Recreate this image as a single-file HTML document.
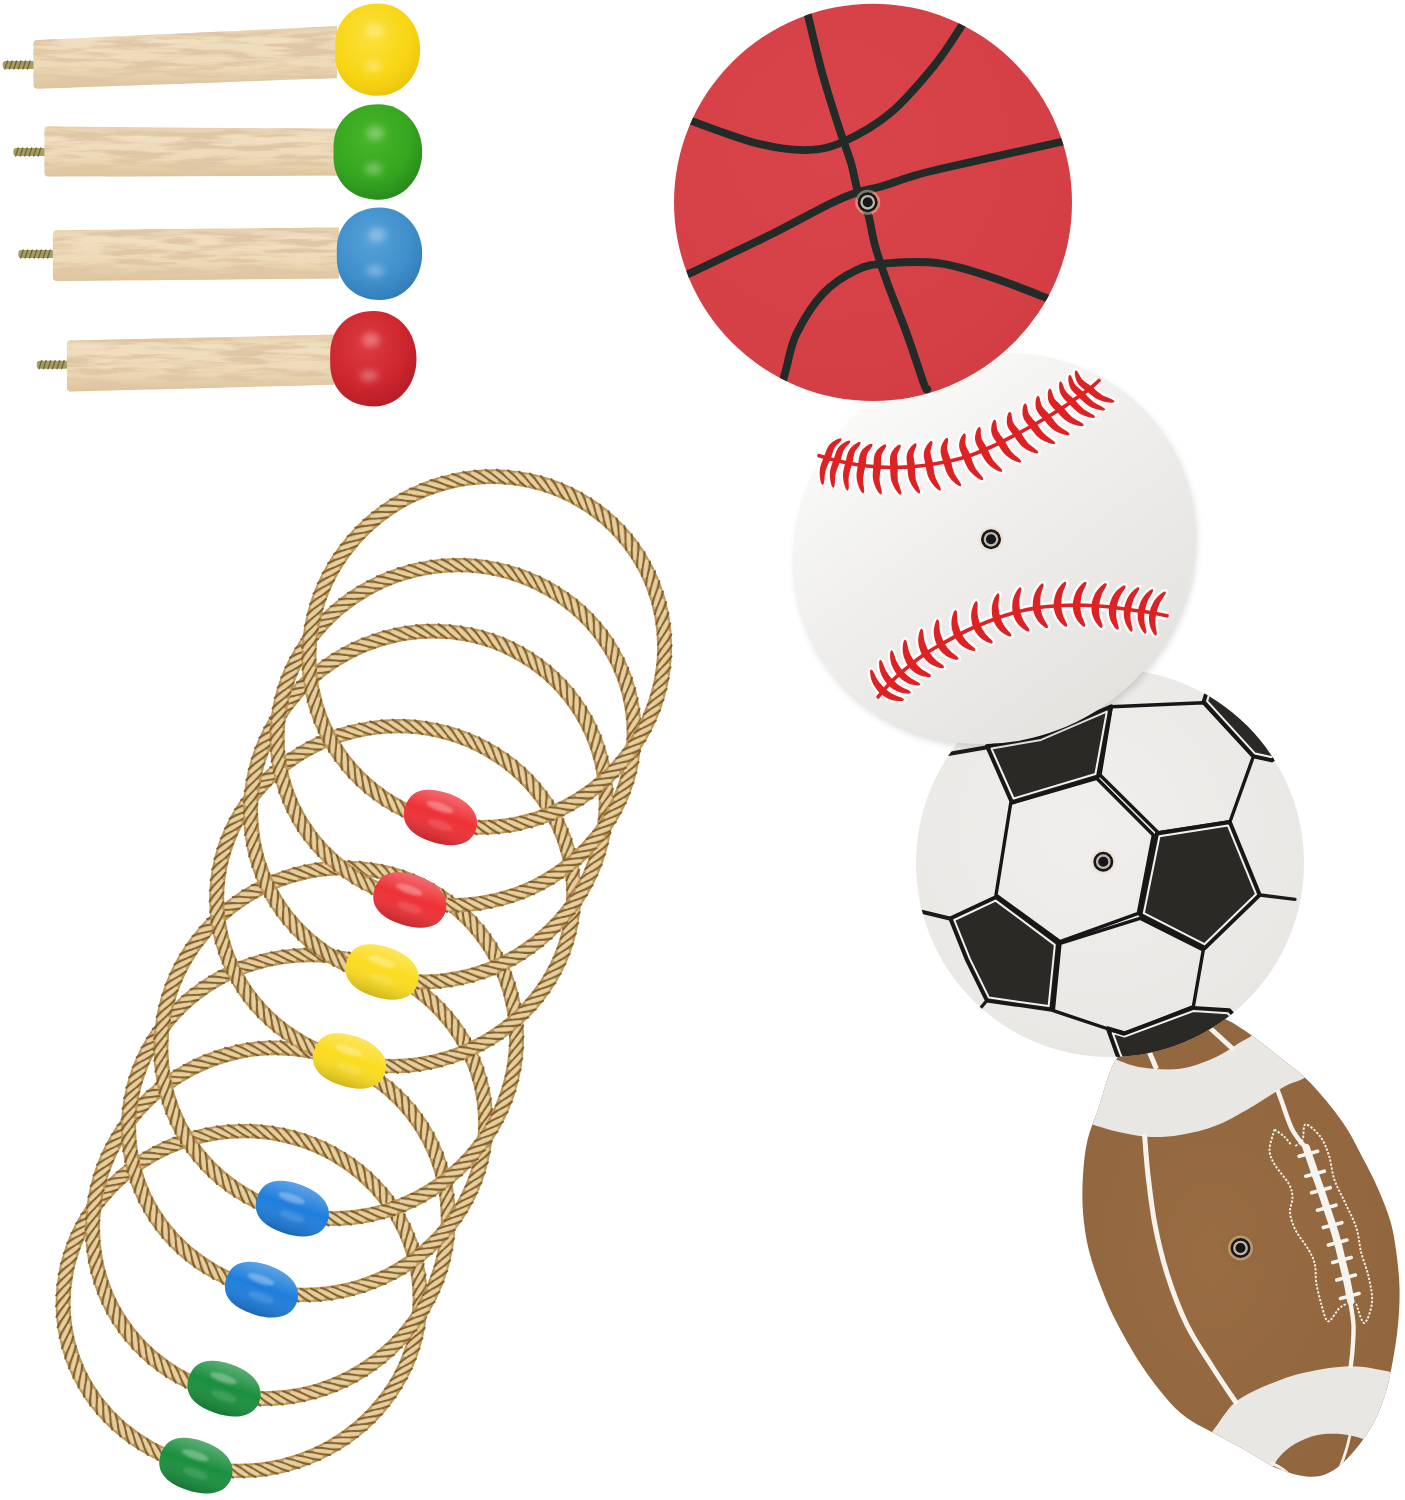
<!DOCTYPE html>
<html><head><meta charset="utf-8"><title>Ring toss game set</title>
<style>html,body{margin:0;padding:0;background:#fff;font-family:"Liberation Sans",sans-serif}svg{display:block}</style>
</head><body>
<svg width="1405" height="1500" viewBox="0 0 1405 1500">
<rect width="1405" height="1500" fill="#fff"/>
<defs>
<filter id="wood" x="0" y="0" width="100%" height="100%">
<feTurbulence type="fractalNoise" baseFrequency="0.018 0.16" numOctaves="4" seed="7" result="n"/>
<feColorMatrix in="n" values="0 0 0 0 0.74  0 0 0 0 0.57  0 0 0 0 0.38  4.4 0 0 0 -1.85" result="g"/>
<feComposite in="g" in2="SourceGraphic" operator="in" result="gg"/>
<feMerge><feMergeNode in="SourceGraphic"/><feMergeNode in="gg"/></feMerge>
</filter>
<filter id="soft" x="-50%" y="-50%" width="200%" height="200%"><feGaussianBlur stdDeviation="1.2"/></filter>
<filter id="soft3" x="-60%" y="-60%" width="220%" height="220%"><feGaussianBlur stdDeviation="3"/></filter>
<linearGradient id="stick" x1="0" y1="0" x2="0" y2="1">
<stop offset="0" stop-color="#e6d0ab"/><stop offset="0.2" stop-color="#f1dfc1"/><stop offset="0.65" stop-color="#eed9b7"/><stop offset="1" stop-color="#dcc39a"/>
</linearGradient>
<radialGradient id="gy" cx="0.42" cy="0.35" r="0.75"><stop offset="0" stop-color="#fbe03a"/><stop offset="0.6" stop-color="#f8d615"/><stop offset="1" stop-color="#e9be0c"/></radialGradient>
<radialGradient id="gg" cx="0.42" cy="0.35" r="0.75"><stop offset="0" stop-color="#48b62a"/><stop offset="0.6" stop-color="#36a620"/><stop offset="1" stop-color="#23801c"/></radialGradient>
<radialGradient id="gb" cx="0.42" cy="0.35" r="0.75"><stop offset="0" stop-color="#57a2d8"/><stop offset="0.6" stop-color="#3f8fcb"/><stop offset="1" stop-color="#2d76b4"/></radialGradient>
<radialGradient id="gr" cx="0.42" cy="0.35" r="0.75"><stop offset="0" stop-color="#dd3b41"/><stop offset="0.6" stop-color="#cd262e"/><stop offset="1" stop-color="#ae1a26"/></radialGradient>
<radialGradient id="bk" cx="0.4" cy="0.35" r="0.8"><stop offset="0" stop-color="#d84449"/><stop offset="0.7" stop-color="#d54046"/><stop offset="1" stop-color="#d03a41"/></radialGradient>
<radialGradient id="wh" cx="0.45" cy="0.4" r="0.7"><stop offset="0" stop-color="#f0efed"/><stop offset="0.8" stop-color="#eae8e5"/><stop offset="1" stop-color="#e4e2de"/></radialGradient>
<linearGradient id="bbg" gradientUnits="userSpaceOnUse" x1="-60" y1="-190" x2="-30" y2="190"><stop offset="0" stop-color="#fafaf9"/><stop offset="0.45" stop-color="#efeeec"/><stop offset="1" stop-color="#e5e3e0"/></linearGradient>
<linearGradient id="bead" x1="0" y1="0" x2="0" y2="1"><stop offset="0" stop-color="#fff" stop-opacity="0.28"/><stop offset="0.45" stop-color="#fff" stop-opacity="0"/><stop offset="1" stop-color="#000" stop-opacity="0.18"/></linearGradient>
<g id="ring">
<circle r="176" fill="none" stroke="#bd9658" stroke-width="14.8"/>
<circle r="176" fill="none" stroke="#d3b37a" stroke-width="10.5"/>
<path d="M182.8 -10Q178.8 -2.6 176 0T169.2 10M183.1 1.1Q178.6 8.2 175.7 10.6T168.3 20.2M182.7 12.1Q177.8 19 174.7 21.2T166.8 30.3M181.6 23.1Q176.3 29.7 173.1 31.7T164.6 40.3M179.9 34Q174.2 40.3 170.9 42.1T161.9 50.2M177.5 44.8Q171.5 50.7 168 52.4T158.6 59.9M174.5 55.5Q168.1 61 164.6 62.4T154.7 69.3M170.8 65.9Q164.1 71 160.5 72.2T150.2 78.6M166.5 76.1Q159.5 80.8 155.8 81.8T145.2 87.5M161.6 86Q154.4 90.3 150.6 91.1T139.6 96.1M156.1 95.6Q148.6 99.4 144.8 100T133.6 104.3M150.1 104.9Q142.4 108.2 138.5 108.5T127 112.2M143.5 113.7Q135.6 116.6 131.7 116.7T120 119.7M136.3 122.2Q128.3 124.6 124.5 124.5T112.6 126.7M128.7 130.2Q120.5 132.1 116.7 131.7T104.7 133.3M120.6 137.7Q112.3 139.1 108.5 138.5T96.5 139.4M112.1 144.8Q103.7 145.7 100 144.8T87.9 144.9M103.1 151.3Q94.7 151.7 91.1 150.6T79 150M93.8 157.2Q85.4 157.1 81.8 155.8T69.8 154.5M84.1 162.6Q75.8 162 72.2 160.5T60.3 158.4M74.2 167.4Q65.8 166.3 62.4 164.6T50.6 161.8M63.9 171.5Q55.7 169.9 52.4 168T40.8 164.5M53.5 175.1Q45.3 173 42.1 170.9T30.8 166.7M42.8 178Q34.8 175.4 31.7 173.1T20.7 168.2M32 180.3Q24.1 177.2 21.2 174.7T10.5 169.2M21 181.9Q13.4 178.3 10.6 175.7T0.2 169.5M10 182.8Q2.6 178.8 -0 176T-10 169.2M-1.1 183.1Q-8.2 178.6 -10.6 175.7T-20.2 168.3M-12.1 182.7Q-19 177.8 -21.2 174.7T-30.3 166.8M-23.1 181.6Q-29.7 176.3 -31.7 173.1T-40.3 164.6M-34 179.9Q-40.3 174.2 -42.1 170.9T-50.2 161.9M-44.8 177.5Q-50.7 171.5 -52.4 168T-59.9 158.6M-55.5 174.5Q-61 168.1 -62.4 164.6T-69.3 154.7M-65.9 170.8Q-71 164.1 -72.2 160.5T-78.6 150.2M-76.1 166.5Q-80.8 159.5 -81.8 155.8T-87.5 145.2M-86 161.6Q-90.3 154.4 -91.1 150.6T-96.1 139.6M-95.6 156.1Q-99.4 148.6 -100 144.8T-104.3 133.6M-104.9 150.1Q-108.2 142.4 -108.5 138.5T-112.2 127M-113.7 143.5Q-116.6 135.6 -116.7 131.7T-119.7 120M-122.2 136.3Q-124.6 128.3 -124.5 124.5T-126.7 112.6M-130.2 128.7Q-132.1 120.5 -131.7 116.7T-133.3 104.7M-137.7 120.6Q-139.1 112.3 -138.5 108.5T-139.4 96.5M-144.8 112.1Q-145.7 103.7 -144.8 100T-144.9 87.9M-151.3 103.1Q-151.7 94.7 -150.6 91.1T-150 79M-157.2 93.8Q-157.1 85.4 -155.8 81.8T-154.5 69.8M-162.6 84.1Q-162 75.8 -160.5 72.2T-158.4 60.3M-167.4 74.2Q-166.3 65.8 -164.6 62.4T-161.8 50.6M-171.5 63.9Q-169.9 55.7 -168 52.4T-164.5 40.8M-175.1 53.5Q-173 45.3 -170.9 42.1T-166.7 30.8M-178 42.8Q-175.4 34.8 -173.1 31.7T-168.2 20.7M-180.3 32Q-177.2 24.1 -174.7 21.2T-169.2 10.5M-181.9 21Q-178.3 13.4 -175.7 10.6T-169.5 0.2M-182.8 10Q-178.8 2.6 -176 -0T-169.2 -10M-183.1 -1.1Q-178.6 -8.2 -175.7 -10.6T-168.3 -20.2M-182.7 -12.1Q-177.8 -19 -174.7 -21.2T-166.8 -30.3M-181.6 -23.1Q-176.3 -29.7 -173.1 -31.7T-164.6 -40.3M-179.9 -34Q-174.2 -40.3 -170.9 -42.1T-161.9 -50.2M-177.5 -44.8Q-171.5 -50.7 -168 -52.4T-158.6 -59.9M-174.5 -55.5Q-168.1 -61 -164.6 -62.4T-154.7 -69.3M-170.8 -65.9Q-164.1 -71 -160.5 -72.2T-150.2 -78.6M-166.5 -76.1Q-159.5 -80.8 -155.8 -81.8T-145.2 -87.5M-161.6 -86Q-154.4 -90.3 -150.6 -91.1T-139.6 -96.1M-156.1 -95.6Q-148.6 -99.4 -144.8 -100T-133.6 -104.3M-150.1 -104.9Q-142.4 -108.2 -138.5 -108.5T-127 -112.2M-143.5 -113.7Q-135.6 -116.6 -131.7 -116.7T-120 -119.7M-136.3 -122.2Q-128.3 -124.6 -124.5 -124.5T-112.6 -126.7M-128.7 -130.2Q-120.5 -132.1 -116.7 -131.7T-104.7 -133.3M-120.6 -137.7Q-112.3 -139.1 -108.5 -138.5T-96.5 -139.4M-112.1 -144.8Q-103.7 -145.7 -100 -144.8T-87.9 -144.9M-103.1 -151.3Q-94.7 -151.7 -91.1 -150.6T-79 -150M-93.8 -157.2Q-85.4 -157.1 -81.8 -155.8T-69.8 -154.5M-84.1 -162.6Q-75.8 -162 -72.2 -160.5T-60.3 -158.4M-74.2 -167.4Q-65.8 -166.3 -62.4 -164.6T-50.6 -161.8M-63.9 -171.5Q-55.7 -169.9 -52.4 -168T-40.8 -164.5M-53.5 -175.1Q-45.3 -173 -42.1 -170.9T-30.8 -166.7M-42.8 -178Q-34.8 -175.4 -31.7 -173.1T-20.7 -168.2M-32 -180.3Q-24.1 -177.2 -21.2 -174.7T-10.5 -169.2M-21 -181.9Q-13.4 -178.3 -10.6 -175.7T-0.2 -169.5M-10 -182.8Q-2.6 -178.8 -0 -176T10 -169.2M1.1 -183.1Q8.2 -178.6 10.6 -175.7T20.2 -168.3M12.1 -182.7Q19 -177.8 21.2 -174.7T30.3 -166.8M23.1 -181.6Q29.7 -176.3 31.7 -173.1T40.3 -164.6M34 -179.9Q40.3 -174.2 42.1 -170.9T50.2 -161.9M44.8 -177.5Q50.7 -171.5 52.4 -168T59.9 -158.6M55.5 -174.5Q61 -168.1 62.4 -164.6T69.3 -154.7M65.9 -170.8Q71 -164.1 72.2 -160.5T78.6 -150.2M76.1 -166.5Q80.8 -159.5 81.8 -155.8T87.5 -145.2M86 -161.6Q90.3 -154.4 91.1 -150.6T96.1 -139.6M95.6 -156.1Q99.4 -148.6 100 -144.8T104.3 -133.6M104.9 -150.1Q108.2 -142.4 108.5 -138.5T112.2 -127M113.7 -143.5Q116.6 -135.6 116.7 -131.7T119.7 -120M122.2 -136.3Q124.6 -128.3 124.5 -124.5T126.7 -112.6M130.2 -128.7Q132.1 -120.5 131.7 -116.7T133.3 -104.7M137.7 -120.6Q139.1 -112.3 138.5 -108.5T139.4 -96.5M144.8 -112.1Q145.7 -103.7 144.8 -100T144.9 -87.9M151.3 -103.1Q151.7 -94.7 150.6 -91.1T150 -79M157.2 -93.8Q157.1 -85.4 155.8 -81.8T154.5 -69.8M162.6 -84.1Q162 -75.8 160.5 -72.2T158.4 -60.3M167.4 -74.2Q166.3 -65.8 164.6 -62.4T161.8 -50.6M171.5 -63.9Q169.9 -55.7 168 -52.4T164.5 -40.8M175.1 -53.5Q173 -45.3 170.9 -42.1T166.7 -30.8M178 -42.8Q175.4 -34.8 173.1 -31.7T168.2 -20.7M180.3 -32Q177.2 -24.1 174.7 -21.2T169.2 -10.5M181.9 -21Q178.3 -13.4 175.7 -10.6T169.5 -0.2" stroke="#704e20" stroke-width="2" stroke-opacity="0.78" fill="none" stroke-linecap="round"/>
<path d="M180.3 -1.1L171.5 11.7M180 9.8L170.5 22M179.1 20.7L168.9 32.3M177.6 31.5L166.6 42.4M175.3 42.1L163.7 52.4M172.5 52.6L160.3 62.2M169 63L156.2 71.8M164.9 73L151.6 81.1M160.2 82.9L146.4 90.1M154.9 92.4L140.7 98.7M149 101.6L134.5 107.1M142.6 110.4L127.8 115M135.7 118.8L120.6 122.5M128.2 126.8L113 129.5M120.4 134.3L105 136.1M112 141.3L96.6 142.2M103.3 147.8L87.8 147.8M94.2 153.8L78.7 152.8M84.7 159.2L69.4 157.3M75 164L59.7 161.2M64.9 168.2L49.9 164.5M54.7 171.8L39.9 167.2M44.2 174.8L29.7 169.3M33.5 177.2L19.4 170.8M22.8 178.9L9.1 171.7M11.9 179.9L-1.3 171.9M1.1 180.3L-11.7 171.5M-9.8 180L-22 170.5M-20.7 179.1L-32.3 168.9M-31.5 177.6L-42.4 166.6M-42.1 175.3L-52.4 163.7M-52.6 172.5L-62.2 160.3M-63 169L-71.8 156.2M-73 164.9L-81.1 151.6M-82.9 160.2L-90.1 146.4M-92.4 154.9L-98.7 140.7M-101.6 149L-107.1 134.5M-110.4 142.6L-115 127.8M-118.8 135.7L-122.5 120.6M-126.8 128.2L-129.5 113M-134.3 120.4L-136.1 105M-141.3 112L-142.2 96.6M-147.8 103.3L-147.8 87.8M-153.8 94.2L-152.8 78.7M-159.2 84.7L-157.3 69.4M-164 75L-161.2 59.7M-168.2 64.9L-164.5 49.9M-171.8 54.7L-167.2 39.9M-174.8 44.2L-169.3 29.7M-177.2 33.5L-170.8 19.4M-178.9 22.8L-171.7 9.1M-179.9 11.9L-171.9 -1.3M-180.3 1.1L-171.5 -11.7M-180 -9.8L-170.5 -22M-179.1 -20.7L-168.9 -32.3M-177.6 -31.5L-166.6 -42.4M-175.3 -42.1L-163.7 -52.4M-172.5 -52.6L-160.3 -62.2M-169 -63L-156.2 -71.8M-164.9 -73L-151.6 -81.1M-160.2 -82.9L-146.4 -90.1M-154.9 -92.4L-140.7 -98.7M-149 -101.6L-134.5 -107.1M-142.6 -110.4L-127.8 -115M-135.7 -118.8L-120.6 -122.5M-128.2 -126.8L-113 -129.5M-120.4 -134.3L-105 -136.1M-112 -141.3L-96.6 -142.2M-103.3 -147.8L-87.8 -147.8M-94.2 -153.8L-78.7 -152.8M-84.7 -159.2L-69.4 -157.3M-75 -164L-59.7 -161.2M-64.9 -168.2L-49.9 -164.5M-54.7 -171.8L-39.9 -167.2M-44.2 -174.8L-29.7 -169.3M-33.5 -177.2L-19.4 -170.8M-22.8 -178.9L-9.1 -171.7M-11.9 -179.9L1.3 -171.9M-1.1 -180.3L11.7 -171.5M9.8 -180L22 -170.5M20.7 -179.1L32.3 -168.9M31.5 -177.6L42.4 -166.6M42.1 -175.3L52.4 -163.7M52.6 -172.5L62.2 -160.3M63 -169L71.8 -156.2M73 -164.9L81.1 -151.6M82.9 -160.2L90.1 -146.4M92.4 -154.9L98.7 -140.7M101.6 -149L107.1 -134.5M110.4 -142.6L115 -127.8M118.8 -135.7L122.5 -120.6M126.8 -128.2L129.5 -113M134.3 -120.4L136.1 -105M141.3 -112L142.2 -96.6M147.8 -103.3L147.8 -87.8M153.8 -94.2L152.8 -78.7M159.2 -84.7L157.3 -69.4M164 -75L161.2 -59.7M168.2 -64.9L164.5 -49.9M171.8 -54.7L167.2 -39.9M174.8 -44.2L169.3 -29.7M177.2 -33.5L170.8 -19.4M178.9 -22.8L171.7 -9.1M179.9 -11.9L171.9 1.3" stroke="#e9d4a5" stroke-width="3.2" stroke-opacity="0.85" fill="none" stroke-linecap="round"/>
</g>
<path id="stU" d="M-1.5 -23.0L-3.1 -22.5L-4.2 -21.4L-5.3 -20.0L-6.4 -18.3L-7.3 -16.4L-8.2 -14.4L-8.7 -12.2L-8.9 -10.2L-8.8 -8.1L-8.5 -6.2L-8.1 -4.4L-7.6 -2.6L-7.1 -0.8L-6.7 0.9L-6.2 2.8L-5.8 4.7L-5.2 6.8L-4.6 9.0L-3.9 11.2L-3.0 13.3L-1.8 15.4L-0.4 17.5L1.2 19.5L3.0 21.5L4.8 23.2L6.6 24.7L8.2 25.7L10.0 26.0L10.0 26.0L10.1 24.1L9.3 22.4L8.2 20.4L6.9 18.4L5.7 16.3L4.6 14.3L3.8 12.6L3.3 10.8L2.8 9.0L2.3 7.1L1.9 5.1L1.6 3.1L1.1 1.1L0.7 -0.9L0.2 -2.9L-0.4 -4.7L-1.0 -6.3L-1.4 -7.9L-1.9 -9.3L-2.1 -10.6L-2.3 -11.8L-2.3 -13.1L-2.1 -14.7L-1.7 -16.4L-1.3 -18.2L-0.9 -19.9L-0.8 -21.5L-1.5 -23.0Z"/><path id="stL" d="M6.0 -23.5L4.3 -23.3L2.9 -22.2L1.5 -20.9L-0.0 -19.3L-1.5 -17.5L-2.8 -15.6L-3.9 -13.7L-4.8 -11.8L-5.5 -9.9L-6.1 -7.9L-6.6 -5.9L-7.0 -4.0L-7.2 -2.0L-7.3 -0.1L-7.3 1.8L-7.1 3.6L-6.8 5.4L-6.4 7.2L-5.9 8.9L-5.2 10.5L-4.5 12.2L-3.5 13.9L-2.3 15.7L-0.9 17.4L0.4 18.9L1.8 20.3L3.0 21.2L4.7 21.5L4.7 21.5L5.2 19.9L4.8 18.3L4.1 16.6L3.3 14.8L2.6 13.0L1.9 11.3L1.5 9.8L1.1 8.4L0.9 7.0L0.6 5.6L0.5 4.3L0.4 2.9L0.3 1.5L0.3 0.1L0.4 -1.4L0.5 -3.1L0.7 -4.7L0.9 -6.4L1.2 -8.1L1.6 -9.7L1.9 -11.3L2.5 -12.9L3.2 -14.6L4.1 -16.5L5.0 -18.4L5.8 -20.2L6.4 -21.8L6.0 -23.5Z"/>
<g id="hole"><circle r="12.5" fill="#e9d9b8" fill-opacity="0.45"/><circle r="10" fill="#1b1513"/><circle r="6.2" fill="none" stroke="#b9b8b6" stroke-width="2.3"/><circle r="4.4" fill="#161714"/></g>
</defs>
<g>
<rect x="2.7" y="61" width="32.8" height="8" rx="3" fill="#a99c62"/>
<path d="M4.7 69.5L7.7 60.5M9.2 69.5L12.2 60.5M13.7 69.5L16.7 60.5M18.2 69.5L21.2 60.5M22.7 69.5L25.7 60.5M27.2 69.5L30.2 60.5" stroke="#6f6a3a" stroke-width="1.4" fill="none"/>
</g>
<path d="M37.5 40L337 26.3L337 78L37.5 88.7Q33.5 88.7 33.5 84.7L33.5 44Q33.5 40 37.5 40Z" fill="url(#stick)" filter="url(#wood)"/>
<path d="M335.1 45C335.1 21 351.6 3.4 378.2 3.4C402.1 3.4 420.1 23.7 420.1 49.6C420.1 75.5 402.1 95.8 378.2 95.8C351.6 95.8 335.1 78.2 335.1 54.2Z" fill="url(#gy)"/>
<ellipse cx="375.3" cy="30.6" rx="9" ry="7" fill="#fff" fill-opacity="0.3" filter="url(#soft3)"/>
<ellipse cx="373.3" cy="66.6" rx="9" ry="6" fill="#fff" fill-opacity="0.28" filter="url(#soft3)"/>
<g>
<rect x="13.4" y="148" width="33.1" height="8" rx="3" fill="#a99c62"/>
<path d="M15.4 156.5L18.4 147.5M19.9 156.5L22.9 147.5M24.4 156.5L27.4 147.5M28.9 156.5L31.9 147.5M33.4 156.5L36.4 147.5M37.9 156.5L40.9 147.5" stroke="#6f6a3a" stroke-width="1.4" fill="none"/>
</g>
<path d="M48.5 126.5L337 128.8L337 175.6L48.5 176.6Q44.5 176.6 44.5 172.6L44.5 130.5Q44.5 126.5 48.5 126.5Z" fill="url(#stick)" filter="url(#wood)"/>
<path d="M333.5 147.2C333.5 122.4 350.7 104.3 378.4 104.3C403.4 104.3 422.2 125.3 422.2 152C422.2 178.7 403.4 199.7 378.4 199.7C350.7 199.7 333.5 181.6 333.5 156.8Z" fill="url(#gg)"/>
<ellipse cx="375.5" cy="133" rx="9" ry="7" fill="#fff" fill-opacity="0.3" filter="url(#soft3)"/>
<ellipse cx="373.5" cy="169" rx="9" ry="6" fill="#fff" fill-opacity="0.28" filter="url(#soft3)"/>
<g>
<rect x="18.4" y="250" width="36.5" height="8" rx="3" fill="#a99c62"/>
<path d="M20.4 258.5L23.4 249.5M24.9 258.5L27.9 249.5M29.4 258.5L32.4 249.5M33.9 258.5L36.9 249.5M38.4 258.5L41.4 249.5M42.9 258.5L45.9 249.5M47.4 258.5L50.4 249.5" stroke="#6f6a3a" stroke-width="1.4" fill="none"/>
</g>
<path d="M56.9 230.2L339 227.5L339 278.4L56.9 281Q52.9 281 52.9 277L52.9 234.2Q52.9 230.2 56.9 230.2Z" fill="url(#stick)" filter="url(#wood)"/>
<path d="M336.8 249.1C336.8 225 353.4 207.4 380.1 207.4C404.1 207.4 422.2 227.8 422.2 253.7C422.2 279.6 404.1 300 380.1 300C353.4 300 336.8 282.4 336.8 258.3Z" fill="url(#gb)"/>
<ellipse cx="377.2" cy="234.7" rx="9" ry="7" fill="#fff" fill-opacity="0.3" filter="url(#soft3)"/>
<ellipse cx="375.2" cy="270.7" rx="9" ry="6" fill="#fff" fill-opacity="0.28" filter="url(#soft3)"/>
<g>
<rect x="36.8" y="360.7" width="32.1" height="8" rx="3" fill="#a99c62"/>
<path d="M38.8 369.2L41.8 360.2M43.3 369.2L46.3 360.2M47.8 369.2L50.8 360.2M52.3 369.2L55.3 360.2M56.8 369.2L59.8 360.2M61.3 369.2L64.3 360.2" stroke="#6f6a3a" stroke-width="1.4" fill="none"/>
</g>
<path d="M70.9 340.6L334 334.6L334 384.7L70.9 391.4Q66.9 391.4 66.9 387.4L66.9 344.6Q66.9 340.6 70.9 340.6Z" fill="url(#stick)" filter="url(#wood)"/>
<path d="M330.2 354C330.2 329.2 346.9 311.1 373.9 311.1C398.2 311.1 416.5 332.1 416.5 358.8C416.5 385.5 398.2 406.5 373.9 406.5C346.9 406.5 330.2 388.4 330.2 363.6Z" fill="url(#gr)"/>
<ellipse cx="371" cy="339.8" rx="9" ry="7" fill="#fff" fill-opacity="0.3" filter="url(#soft3)"/>
<ellipse cx="369" cy="375.8" rx="9" ry="6" fill="#fff" fill-opacity="0.28" filter="url(#soft3)"/>
<use href="#ring" transform="translate(241.6 1301) rotate(-8.5) scale(1.0153 0.9645)"/>
<g transform="translate(195.8 1466) rotate(19)"><path d="M-37 0C-37 -16.500 -25 -25.500 -1 -25.500C23 -25.500 37.500 -15.500 37.500 0C37.500 15.500 23 25.500 -1 25.500C-25 25.500 -37 16.500 -37 0Z" fill="#1b8f3e"/><path d="M-37 0C-37 -16.500 -25 -25.500 -1 -25.500C23 -25.500 37.500 -15.500 37.500 0C37.500 15.500 23 25.500 -1 25.500C-25 25.500 -37 16.500 -37 0Z" fill="url(#bead)"/><ellipse cx="-4" cy="-10" rx="14" ry="4" fill="#fff" fill-opacity="0.3" filter="url(#soft)"/><ellipse cx="2" cy="7" rx="13" ry="4.500" fill="#fff" fill-opacity="0.12" filter="url(#soft)"/></g>
<use href="#ring" transform="translate(270.4 1223.2) rotate(-32.7) scale(1.0199 0.9864)"/>
<g transform="translate(224 1389) rotate(19)"><path d="M-37 0C-37 -16.500 -25 -25.500 -1 -25.500C23 -25.500 37.500 -15.500 37.500 0C37.500 15.500 23 25.500 -1 25.500C-25 25.500 -37 16.500 -37 0Z" fill="#1b8f3e"/><path d="M-37 0C-37 -16.500 -25 -25.500 -1 -25.500C23 -25.500 37.500 -15.500 37.500 0C37.500 15.500 23 25.500 -1 25.500C-25 25.500 -37 16.500 -37 0Z" fill="url(#bead)"/><ellipse cx="-4" cy="-10" rx="14" ry="4" fill="#fff" fill-opacity="0.3" filter="url(#soft)"/><ellipse cx="2" cy="7" rx="13" ry="4.500" fill="#fff" fill-opacity="0.12" filter="url(#soft)"/></g>
<use href="#ring" transform="translate(307.1 1125) rotate(-8.5) scale(1.0153 0.9645)"/>
<g transform="translate(261.4 1290) rotate(19)"><path d="M-37 0C-37 -16.500 -25 -25.500 -1 -25.500C23 -25.500 37.500 -15.500 37.500 0C37.500 15.500 23 25.500 -1 25.500C-25 25.500 -37 16.500 -37 0Z" fill="#1f7edc"/><path d="M-37 0C-37 -16.500 -25 -25.500 -1 -25.500C23 -25.500 37.500 -15.500 37.500 0C37.500 15.500 23 25.500 -1 25.500C-25 25.500 -37 16.500 -37 0Z" fill="url(#bead)"/><ellipse cx="-4" cy="-10" rx="14" ry="4" fill="#fff" fill-opacity="0.3" filter="url(#soft)"/><ellipse cx="2" cy="7" rx="13" ry="4.500" fill="#fff" fill-opacity="0.12" filter="url(#soft)"/></g>
<use href="#ring" transform="translate(338.7 1043.2) rotate(-32.7) scale(1.0199 0.9864)"/>
<g transform="translate(292.3 1209) rotate(19)"><path d="M-37 0C-37 -16.500 -25 -25.500 -1 -25.500C23 -25.500 37.500 -15.500 37.500 0C37.500 15.500 23 25.500 -1 25.500C-25 25.500 -37 16.500 -37 0Z" fill="#1f7edc"/><path d="M-37 0C-37 -16.500 -25 -25.500 -1 -25.500C23 -25.500 37.500 -15.500 37.500 0C37.500 15.500 23 25.500 -1 25.500C-25 25.500 -37 16.500 -37 0Z" fill="url(#bead)"/><ellipse cx="-4" cy="-10" rx="14" ry="4" fill="#fff" fill-opacity="0.3" filter="url(#soft)"/><ellipse cx="2" cy="7" rx="13" ry="4.500" fill="#fff" fill-opacity="0.12" filter="url(#soft)"/></g>
<use href="#ring" transform="translate(395.2 896.2) rotate(-8.5) scale(1.0153 0.9645)"/>
<g transform="translate(349.5 1061.3) rotate(19)"><path d="M-37 0C-37 -16.500 -25 -25.500 -1 -25.500C23 -25.500 37.500 -15.500 37.500 0C37.500 15.500 23 25.500 -1 25.500C-25 25.500 -37 16.500 -37 0Z" fill="#fbdc20"/><path d="M-37 0C-37 -16.500 -25 -25.500 -1 -25.500C23 -25.500 37.500 -15.500 37.500 0C37.500 15.500 23 25.500 -1 25.500C-25 25.500 -37 16.500 -37 0Z" fill="url(#bead)"/><ellipse cx="-4" cy="-10" rx="14" ry="4" fill="#fff" fill-opacity="0.3" filter="url(#soft)"/><ellipse cx="2" cy="7" rx="13" ry="4.500" fill="#fff" fill-opacity="0.12" filter="url(#soft)"/></g>
<use href="#ring" transform="translate(428.4 806.5) rotate(-32.7) scale(1.0199 0.9864)"/>
<g transform="translate(382 972.3) rotate(19)"><path d="M-37 0C-37 -16.500 -25 -25.500 -1 -25.500C23 -25.500 37.500 -15.500 37.500 0C37.500 15.500 23 25.500 -1 25.500C-25 25.500 -37 16.500 -37 0Z" fill="#fbdc20"/><path d="M-37 0C-37 -16.500 -25 -25.500 -1 -25.500C23 -25.500 37.500 -15.500 37.500 0C37.500 15.500 23 25.500 -1 25.500C-25 25.500 -37 16.500 -37 0Z" fill="url(#bead)"/><ellipse cx="-4" cy="-10" rx="14" ry="4" fill="#fff" fill-opacity="0.3" filter="url(#soft)"/><ellipse cx="2" cy="7" rx="13" ry="4.500" fill="#fff" fill-opacity="0.12" filter="url(#soft)"/></g>
<use href="#ring" transform="translate(455.6 735.2) rotate(-8.5) scale(1.0153 0.9645)"/>
<g transform="translate(409.8 900.3) rotate(19)"><path d="M-37 0C-37 -16.500 -25 -25.500 -1 -25.500C23 -25.500 37.500 -15.500 37.500 0C37.500 15.500 23 25.500 -1 25.500C-25 25.500 -37 16.500 -37 0Z" fill="#ee3136"/><path d="M-37 0C-37 -16.500 -25 -25.500 -1 -25.500C23 -25.500 37.500 -15.500 37.500 0C37.500 15.500 23 25.500 -1 25.500C-25 25.500 -37 16.500 -37 0Z" fill="url(#bead)"/><ellipse cx="-4" cy="-10" rx="14" ry="4" fill="#fff" fill-opacity="0.3" filter="url(#soft)"/><ellipse cx="2" cy="7" rx="13" ry="4.500" fill="#fff" fill-opacity="0.12" filter="url(#soft)"/></g>
<use href="#ring" transform="translate(486.8 652) rotate(-32.7) scale(1.0199 0.9864)"/>
<g transform="translate(440.4 817.8) rotate(19)"><path d="M-37 0C-37 -16.500 -25 -25.500 -1 -25.500C23 -25.500 37.500 -15.500 37.500 0C37.500 15.500 23 25.500 -1 25.500C-25 25.500 -37 16.500 -37 0Z" fill="#ee3136"/><path d="M-37 0C-37 -16.500 -25 -25.500 -1 -25.500C23 -25.500 37.500 -15.500 37.500 0C37.500 15.500 23 25.500 -1 25.500C-25 25.500 -37 16.500 -37 0Z" fill="url(#bead)"/><ellipse cx="-4" cy="-10" rx="14" ry="4" fill="#fff" fill-opacity="0.3" filter="url(#soft)"/><ellipse cx="2" cy="7" rx="13" ry="4.500" fill="#fff" fill-opacity="0.12" filter="url(#soft)"/></g>
<clipPath id="fbc"><path d="M1160 1022C1150.8 1026.3 1142.1 1032.1 1135 1038C1127.9 1043.9 1121.9 1051.3 1117.5 1057.5C1113.1 1063.7 1111.9 1066.7 1108.8 1075C1105.6 1083.3 1102.3 1096.7 1098.8 1107.5C1095.2 1118.3 1090.1 1128.8 1087.5 1140C1084.9 1151.2 1083.8 1162.9 1083 1175C1082.2 1187.1 1082 1200 1083 1212.5C1084 1225 1085.7 1237.5 1088.8 1250C1091.8 1262.5 1096.4 1275 1101.2 1287.5C1106.1 1300 1110.5 1310.9 1118 1325C1125.5 1339.1 1135.7 1357.4 1146 1372C1156.3 1386.6 1168.5 1402.2 1180 1412.5C1191.5 1422.8 1204.2 1427.5 1215 1433.8C1225.8 1440 1235 1444.4 1245 1450C1255 1455.6 1265.8 1463.2 1275 1467.5C1284.2 1471.8 1292.5 1474.1 1300 1475.5C1307.5 1476.9 1313.8 1477.3 1320 1476C1326.2 1474.7 1331.7 1471.8 1337.5 1467.5C1343.3 1463.2 1349.2 1457.1 1355 1450C1360.8 1442.9 1367.5 1434.2 1372.5 1425C1377.5 1415.8 1381.7 1405.4 1385 1395C1388.3 1384.6 1390.3 1374.2 1392.5 1362.5C1394.7 1350.8 1396.8 1337.5 1398 1325C1399.2 1312.5 1399.8 1300 1399.5 1287.5C1399.2 1275 1397.6 1261.2 1396 1250C1394.4 1238.8 1393.1 1230.4 1390 1220C1386.9 1209.6 1382.1 1197.9 1377.5 1187.5C1372.9 1177.1 1368.3 1168.4 1362.5 1157.5C1356.7 1146.6 1351.2 1134.5 1342.5 1122C1333.8 1109.5 1320.4 1093.2 1310 1082.5C1299.6 1071.8 1290.4 1065.8 1280 1057.5C1269.6 1049.2 1257.2 1039.1 1247.5 1032.5C1237.8 1025.9 1231.6 1021.4 1222 1018C1212.4 1014.6 1200.3 1011.3 1190 1012C1179.7 1012.7 1169.2 1017.7 1160 1022Z"/></clipPath>
<radialGradient id="fbg" cx="0.45" cy="0.5" r="0.6"><stop offset="0" stop-color="#996c42"/><stop offset="1" stop-color="#90653d"/></radialGradient>
<g clip-path="url(#fbc)">
<rect x="1050" y="1000" width="360" height="510" fill="url(#fbg)"/>
<path d="M1092.5 1047.5C1096.7 1049.6 1109.2 1056.7 1117.5 1060C1125.8 1063.3 1132.1 1066 1142.5 1067.5C1152.9 1069 1167.9 1070.4 1180 1068.8C1192.1 1067.1 1205 1061.9 1215 1057.5C1225 1053.1 1233.8 1046.2 1240 1042.5C1246.2 1038.8 1247.9 1038.8 1252.5 1035C1257.1 1031.2 1265 1022.5 1267.5 1020L1320 1062.5C1317.5 1065 1310.8 1073.5 1305 1077.5C1299.2 1081.5 1293.3 1081.7 1285 1086.2C1276.7 1090.8 1266.2 1098.5 1255 1105C1243.8 1111.5 1230 1120 1217.5 1125C1205 1130 1191.7 1133 1180 1135C1168.3 1137 1157.9 1137.3 1147.5 1136.8C1137.1 1136.2 1127.1 1133.9 1117.5 1131.8C1107.9 1129.6 1097.9 1126.1 1090 1123.8C1082.1 1121.4 1073.3 1118.5 1070 1117.5Z" fill="#e9e7e3"/>
<path d="M1195 1450C1197.9 1446.9 1205.8 1439.2 1212.5 1431.2C1219.2 1423.3 1225.8 1410.2 1235 1402.5C1244.2 1394.8 1255.8 1390 1267.5 1385C1279.2 1380 1291.2 1375.6 1305 1372.5C1318.8 1369.4 1336.2 1366.5 1350 1366.2C1363.8 1366 1377.5 1369.4 1387.5 1371.2C1397.5 1373.1 1406.2 1376.5 1410 1377.5L1410 1457.5C1405 1455.8 1387.9 1450.6 1380 1447.5C1372.1 1444.4 1368.8 1441 1362.5 1438.8C1356.2 1436.5 1350 1434.9 1342.5 1434.2C1335 1433.6 1325.4 1433.4 1317.5 1435C1309.6 1436.6 1301.2 1440.2 1295 1443.8C1288.8 1447.3 1283.8 1452.4 1280 1456.2C1276.2 1460.1 1275.8 1463 1272.5 1467C1269.2 1471 1262.1 1477.8 1260 1480Z" fill="#e9e7e3"/>
<path d="M1144.5 1134C1145.1 1140.8 1146.2 1159.8 1148 1175C1149.8 1190.2 1151.8 1208.3 1155 1225C1158.2 1241.7 1162.2 1258.3 1167.5 1275C1172.8 1291.7 1179.4 1309.5 1187 1325C1194.6 1340.5 1204.7 1354.8 1213 1368C1221.3 1381.2 1233 1398 1237 1404" fill="none" stroke="#f6f3ec" stroke-width="5"/>
<path d="M1277.5 1090C1278.1 1091.7 1278.8 1093.3 1281.2 1100C1283.8 1106.7 1288.1 1121.7 1292.5 1130C1296.9 1138.3 1305 1146.7 1307.5 1150" fill="none" stroke="#f6f3ec" stroke-width="4.6"/>
<path d="M1350 1300C1350.6 1304.2 1353.1 1316.7 1353.5 1325C1353.9 1333.3 1353 1342.8 1352.5 1350C1352 1357.2 1350.8 1365 1350.5 1368" fill="none" stroke="#f6f3ec" stroke-width="4.4"/>
<path d="M1148.5 1050L1156.5 1069" fill="none" stroke="#f6f3ec" stroke-width="5"/>
<path d="M1209 1027L1234 1050" fill="none" stroke="#f6f3ec" stroke-width="5"/>
<path d="M1350 1435C1349.4 1437.5 1347.9 1444.6 1346.2 1450C1344.6 1455.4 1341.9 1462.9 1340 1467.5C1338.1 1472.1 1335.8 1475.8 1335 1477.5" fill="none" stroke="#f4f1ea" stroke-width="2.8"/>
<path d="M1270 1462.5C1271.7 1463.3 1276.7 1465.4 1280 1467.5C1283.3 1469.6 1288.3 1473.8 1290 1475" fill="none" stroke="#f4f1ea" stroke-width="2.8"/>
<path d="M1306.2 1147.5C1307.5 1151.2 1311.5 1163.3 1313.8 1170C1316 1176.7 1317.9 1181.5 1320 1187.5C1322.1 1193.5 1324.2 1200 1326.2 1206.2C1328.3 1212.5 1330.5 1218.8 1332.5 1225C1334.5 1231.2 1336.3 1237.5 1338 1243.8C1339.7 1250 1341 1256.2 1342.5 1262.5C1344 1268.8 1345.6 1274.8 1347 1281.2C1348.4 1287.7 1350.1 1297.9 1350.8 1301.2" fill="none" stroke="#f6f4ee" stroke-width="7.4" stroke-linecap="round"/>
<path d="M1299.1 1156.3L1317.6 1151.3M1305.8 1176.2L1324.3 1171.2M1311.6 1192.7L1330.2 1187.7M1317.5 1210.2L1336 1205.2M1323.3 1227.6L1341.8 1222.7M1328.4 1245.1L1346.9 1240.1M1332.7 1262.6L1351.2 1257.6M1336.8 1280.1L1355.4 1275.1M1340.5 1298.5L1359 1293.5" fill="none" stroke="#f6f4ee" stroke-width="3.6" stroke-linecap="round"/>
<path d="M1274.5 1129.5C1273.7 1132.9 1269.4 1144.1 1269.5 1150C1269.6 1155.9 1271.8 1159.4 1275 1165C1278.2 1170.6 1285.8 1178.3 1288.8 1183.8C1291.7 1189.2 1292.3 1192.7 1292.5 1197.5C1292.7 1202.3 1289.5 1207.1 1290 1212.5C1290.5 1217.9 1292.4 1223.8 1295.5 1230C1298.6 1236.2 1305.5 1244.2 1308.8 1250C1312 1255.8 1313.8 1259.6 1315 1265C1316.2 1270.4 1315.2 1276 1316.2 1282.5C1317.3 1289 1319.3 1297.3 1321.2 1303.8C1323.2 1310.2 1325.1 1320.4 1328 1321.2C1330.9 1322.1 1335.7 1311.7 1338.8 1308.8C1341.8 1305.8 1345 1304.6 1346.2 1303.8" fill="none" stroke="#f6f3ec" stroke-width="1.9" stroke-dasharray="2.3 1.6"/>
<path d="M1356.2 1303.8C1357.6 1307 1361.6 1323.2 1364.2 1323C1366.9 1322.8 1371.2 1310.1 1372 1302.5C1372.8 1294.9 1370.5 1285.8 1368.8 1277.5C1367 1269.2 1363.3 1260.8 1361.2 1252.5C1359.2 1244.2 1359 1235.8 1356.2 1227.5C1353.5 1219.2 1348.6 1210.4 1345 1202.5C1341.4 1194.6 1337.2 1187.9 1334.5 1180C1331.8 1172.1 1331.2 1162.3 1328.8 1155C1326.3 1147.7 1323.9 1141.3 1320 1136.2C1316.1 1131.2 1308.4 1123.9 1305.5 1124.5C1302.6 1125.1 1304.2 1136.4 1302.5 1140C1300.8 1143.6 1296.2 1145.2 1295 1146.2" fill="none" stroke="#f6f3ec" stroke-width="1.9" stroke-dasharray="2.3 1.6"/>
<path d="M1274.5 1129.5C1276 1130.6 1281 1133.7 1283.8 1136.2C1286.5 1138.8 1290 1143.5 1291.2 1145" fill="none" stroke="#f6f3ec" stroke-width="1.9" stroke-dasharray="2.3 1.6"/>
<circle cx="1240.5" cy="1248" r="13" fill="#8c5826" fill-opacity="0.35" filter="url(#soft3)"/>
</g>
<use href="#hole" x="1240.5" y="1248"/>
<clipPath id="scc"><circle cx="1110" cy="863" r="194"/></clipPath>
<circle cx="1110" cy="863" r="194" fill="url(#wh)"/>
<g clip-path="url(#scc)" stroke-linejoin="round">
<path d="M986.7 746L1040 736.7L1111.3 706L1098.3 776.7L1011.7 802.7Z" fill="#2a2926" stroke="#171717" stroke-width="3.4"/>
<path d="M991.5 748.6L1041 739.9L1106.8 711.6L1095.4 774L1013.6 798.5Z" fill="none" stroke="#f3f1ee" stroke-width="2"/>
<path d="M1156.7 833.3L1230 821.7L1260 895L1205 948.3L1140 915Z" fill="#2a2926" stroke="#171717" stroke-width="3.4"/>
<path d="M1159.5 836.3L1227.9 825.4L1256 894.2L1204.4 944.2L1143.8 913.2Z" fill="none" stroke="#f3f1ee" stroke-width="2"/>
<path d="M950 918.3L996 896.7L1058.3 943.3L1051.7 1010L986.7 1000.7L966.7 960Z" fill="#2a2926" stroke="#171717" stroke-width="3.4"/>
<path d="M954.3 920L995.6 900.6L1054.8 944.9L1048.6 1006.1L988.9 997.6L969.8 958.6Z" fill="none" stroke="#f3f1ee" stroke-width="2"/>
<path d="M1107.3 1028L1124.3 1033L1192.7 1007.7L1229.3 1010L1256.7 1040L1190 1083.3L1130 1083.3L1117 1055Z" fill="#2a2926" stroke="#171717" stroke-width="3.4"/>
<path d="M1112.8 1033.1L1124.5 1036.6L1193.2 1011.1L1227.7 1013.3L1251.5 1039.3L1189 1079.9L1132.2 1079.9L1120.2 1053.7Z" fill="none" stroke="#f3f1ee" stroke-width="2"/>
<path d="M1203.3 702L1253.3 756.7L1271.7 760.7L1306.7 740L1256.7 673.3L1210 680Z" fill="#2a2926" stroke="#171717" stroke-width="3.4"/>
<path d="M1207.1 701.1L1255.1 753.6L1271.1 757.1L1301.7 739L1255.2 677L1212.6 683.1Z" fill="none" stroke="#f3f1ee" stroke-width="2"/>
<path d="M1010.7 803.3L1096.7 778.3L1153.3 835L1138.3 913.3L1060 941.7L996 895Z" fill="none" stroke="#171717" stroke-width="3.4"/>
<path d="M1111.3 706.7L1203.3 702.7L1253.3 756.7L1230 821.7L1158.3 832.7L1100 775Z" fill="none" stroke="#171717" stroke-width="3.4"/>
<path d="M1060 943.3L1140 918.3L1203.3 950L1193.3 1006.7L1123.3 1034L1053.3 1010.7Z" fill="none" stroke="#171717" stroke-width="3.4"/>
<path d="M1260 895L1295 899.3" fill="none" stroke="#1b1b1b" stroke-width="3.3" stroke-linecap="round"/>
<path d="M986.7 1000.7L978.3 1010.7" fill="none" stroke="#1b1b1b" stroke-width="3.3" stroke-linecap="round"/>
<path d="M987.3 747.3L948.3 754" fill="none" stroke="#1b1b1b" stroke-width="4" stroke-linecap="round"/>
<path d="M950.7 918.7L921.7 911.7" fill="none" stroke="#1b1b1b" stroke-width="4" stroke-linecap="round"/>
</g>
<use href="#hole" x="1103.3" y="861.7"/>
<ellipse rx="204.7" ry="191.8" fill="#000" fill-opacity="0.13" filter="url(#soft3)" transform="translate(996 552.5) rotate(-31.7)"/>
<ellipse rx="204.7" ry="191.8" fill="url(#bbg)" transform="translate(994.1 548.5) rotate(-31.7)"/>
<g fill="#fff" stroke="#fff" stroke-width="5" stroke-opacity="0.9" stroke-linejoin="round">
<path d="M819 455.7C823 456.8 835 460.3 843 462C851 463.7 858.7 465.1 867 466C875.3 466.9 884.3 467.5 893 467.5C901.7 467.5 910.6 466.9 919.3 466C928 465.1 936.6 463.7 945 462C953.4 460.3 961.7 458.3 969.5 455.7C977.3 453.1 984.4 449.9 992 446.5C999.6 443.1 1007.3 439 1015 435C1022.7 431 1030.4 426.8 1038 422.5C1045.6 418.2 1053.9 413.2 1060.6 409C1067.3 404.8 1073.1 400.4 1078 397C1082.9 393.6 1086.5 391.2 1090 388.5C1093.5 385.8 1097.5 381.8 1099 380.5" fill="none" stroke-width="9"/>
<use href="#stU" transform="translate(829.8 458.5) rotate(34.2) scale(0.9 1)"/>
<use href="#stU" transform="translate(839.4 461.1) rotate(31.8) scale(0.9 1)"/>
<use href="#stU" transform="translate(851.4 463.4) rotate(26.8) scale(0.9 1)"/>
<use href="#stU" transform="translate(864.6 465.6) rotate(23.6) scale(1 1)"/>
<use href="#stU" transform="translate(880 466.8) rotate(18.6) scale(1 1)"/>
<use href="#stU" transform="translate(896.9 467.3) rotate(12.6) scale(1 1)"/>
<use href="#stU" transform="translate(914 466.3) rotate(9) scale(1 1)"/>
<use href="#stU" transform="translate(932.1 464) rotate(3.3) scale(1 1)"/>
<use href="#stU" transform="translate(949.9 460.7) rotate(-2.4) scale(1 1)"/>
<use href="#stU" transform="translate(969.5 455.7) rotate(-8.3) scale(1 1)"/>
<use href="#stU" transform="translate(986.4 448.8) rotate(-13.7) scale(1 1)"/>
<use href="#stU" transform="translate(1003.5 440.8) rotate(-18.7) scale(1 1)"/>
<use href="#stU" transform="translate(1019.6 432.5) rotate(-21.4) scale(1 1)"/>
<use href="#stU" transform="translate(1035.7 423.8) rotate(-23.5) scale(1 1)"/>
<use href="#stU" transform="translate(1049.3 415.8) rotate(-26.1) scale(1 1)"/>
<use href="#stU" transform="translate(1062.3 407.8) rotate(-29.5) scale(1 1)"/>
<use href="#stU" transform="translate(1073.7 400) rotate(-32) scale(0.9 1)"/>
<use href="#stU" transform="translate(1083.4 393.2) rotate(-33.7) scale(0.9 1)"/>
<use href="#stU" transform="translate(1091.3 387.3) rotate(-39.3) scale(0.9 1)"/>
</g>
<g fill="#de2224">
<path d="M819 455.7C823 456.8 835 460.3 843 462C851 463.7 858.7 465.1 867 466C875.3 466.9 884.3 467.5 893 467.5C901.7 467.5 910.6 466.9 919.3 466C928 465.1 936.6 463.7 945 462C953.4 460.3 961.7 458.3 969.5 455.7C977.3 453.1 984.4 449.9 992 446.5C999.6 443.1 1007.3 439 1015 435C1022.7 431 1030.4 426.8 1038 422.5C1045.6 418.2 1053.9 413.2 1060.6 409C1067.3 404.8 1073.1 400.4 1078 397C1082.9 393.6 1086.5 391.2 1090 388.5C1093.5 385.8 1097.5 381.8 1099 380.5" fill="none" stroke="#de2224" stroke-width="3.6" stroke-linecap="round"/>
<use href="#stU" transform="translate(829.8 458.5) rotate(34.2) scale(0.9 1)"/>
<use href="#stU" transform="translate(839.4 461.1) rotate(31.8) scale(0.9 1)"/>
<use href="#stU" transform="translate(851.4 463.4) rotate(26.8) scale(0.9 1)"/>
<use href="#stU" transform="translate(864.6 465.6) rotate(23.6) scale(1 1)"/>
<use href="#stU" transform="translate(880 466.8) rotate(18.6) scale(1 1)"/>
<use href="#stU" transform="translate(896.9 467.3) rotate(12.6) scale(1 1)"/>
<use href="#stU" transform="translate(914 466.3) rotate(9) scale(1 1)"/>
<use href="#stU" transform="translate(932.1 464) rotate(3.3) scale(1 1)"/>
<use href="#stU" transform="translate(949.9 460.7) rotate(-2.4) scale(1 1)"/>
<use href="#stU" transform="translate(969.5 455.7) rotate(-8.3) scale(1 1)"/>
<use href="#stU" transform="translate(986.4 448.8) rotate(-13.7) scale(1 1)"/>
<use href="#stU" transform="translate(1003.5 440.8) rotate(-18.7) scale(1 1)"/>
<use href="#stU" transform="translate(1019.6 432.5) rotate(-21.4) scale(1 1)"/>
<use href="#stU" transform="translate(1035.7 423.8) rotate(-23.5) scale(1 1)"/>
<use href="#stU" transform="translate(1049.3 415.8) rotate(-26.1) scale(1 1)"/>
<use href="#stU" transform="translate(1062.3 407.8) rotate(-29.5) scale(1 1)"/>
<use href="#stU" transform="translate(1073.7 400) rotate(-32) scale(0.9 1)"/>
<use href="#stU" transform="translate(1083.4 393.2) rotate(-33.7) scale(0.9 1)"/>
<use href="#stU" transform="translate(1091.3 387.3) rotate(-39.3) scale(0.9 1)"/>
</g>
<g fill="#fff" stroke="#fff" stroke-width="5" stroke-opacity="0.9" stroke-linejoin="round">
<path d="M1167 615.8C1164.2 615.2 1155.9 613.5 1150 612.5C1144.1 611.5 1138.8 611 1131.8 610C1124.8 609 1115.8 607.6 1108 606.8C1100.2 606 1092.7 605.4 1084.9 605.2C1077.1 605 1068.8 605.1 1061 605.5C1053.2 605.9 1045.7 606.4 1037.9 607.6C1030.1 608.8 1021.8 610.6 1014 612.8C1006.2 614.9 998.7 617.5 990.9 620.5C983.1 623.5 974.8 626.8 967 630.5C959.2 634.2 950.9 638.9 943.9 642.8C936.9 646.7 930.9 650.1 925 654C919.1 657.9 914.2 661.8 908.7 666.3C903.2 670.8 897.1 675.9 892 681C886.9 686.1 880.5 694.2 878.2 696.8" fill="none" stroke-width="9"/>
<use href="#stL" transform="translate(1156 613.7) rotate(11) scale(0.9 1)"/>
<use href="#stL" transform="translate(1144.5 611.8) rotate(7.8) scale(0.9 1)"/>
<use href="#stL" transform="translate(1130.6 609.8) rotate(7.7) scale(0.9 1)"/>
<use href="#stL" transform="translate(1116.3 607.9) rotate(7.7) scale(1 1)"/>
<use href="#stL" transform="translate(1098.8 606.2) rotate(4) scale(1 1)"/>
<use href="#stL" transform="translate(1080.1 605.3) rotate(0) scale(1 1)"/>
<use href="#stL" transform="translate(1061 605.5) rotate(357.1) scale(1 1)"/>
<use href="#stL" transform="translate(1040.2 607.4) rotate(352.4) scale(1 1)"/>
<use href="#stL" transform="translate(1020 611.5) rotate(347.2) scale(1 1)"/>
<use href="#stL" transform="translate(1000.1 617.4) rotate(341.6) scale(1 1)"/>
<use href="#stL" transform="translate(980.1 625) rotate(337.3) scale(1 1)"/>
<use href="#stL" transform="translate(961.2 633.6) rotate(332.4) scale(1 1)"/>
<use href="#stL" transform="translate(943.9 642.8) rotate(330.8) scale(1 1)"/>
<use href="#stL" transform="translate(928.8 651.8) rotate(328.3) scale(1 1)"/>
<use href="#stL" transform="translate(914.4 662) rotate(323) scale(1 1)"/>
<use href="#stL" transform="translate(902.9 671.4) rotate(318.6) scale(0.9 1)"/>
<use href="#stL" transform="translate(892.8 680.3) rotate(315.6) scale(0.9 1)"/>
<use href="#stL" transform="translate(885.1 688.9) rotate(311.1) scale(0.9 1)"/>
</g>
<g fill="#de2224">
<path d="M1167 615.8C1164.2 615.2 1155.9 613.5 1150 612.5C1144.1 611.5 1138.8 611 1131.8 610C1124.8 609 1115.8 607.6 1108 606.8C1100.2 606 1092.7 605.4 1084.9 605.2C1077.1 605 1068.8 605.1 1061 605.5C1053.2 605.9 1045.7 606.4 1037.9 607.6C1030.1 608.8 1021.8 610.6 1014 612.8C1006.2 614.9 998.7 617.5 990.9 620.5C983.1 623.5 974.8 626.8 967 630.5C959.2 634.2 950.9 638.9 943.9 642.8C936.9 646.7 930.9 650.1 925 654C919.1 657.9 914.2 661.8 908.7 666.3C903.2 670.8 897.1 675.9 892 681C886.9 686.1 880.5 694.2 878.2 696.8" fill="none" stroke="#de2224" stroke-width="3.6" stroke-linecap="round"/>
<use href="#stL" transform="translate(1156 613.7) rotate(11) scale(0.9 1)"/>
<use href="#stL" transform="translate(1144.5 611.8) rotate(7.8) scale(0.9 1)"/>
<use href="#stL" transform="translate(1130.6 609.8) rotate(7.7) scale(0.9 1)"/>
<use href="#stL" transform="translate(1116.3 607.9) rotate(7.7) scale(1 1)"/>
<use href="#stL" transform="translate(1098.8 606.2) rotate(4) scale(1 1)"/>
<use href="#stL" transform="translate(1080.1 605.3) rotate(0) scale(1 1)"/>
<use href="#stL" transform="translate(1061 605.5) rotate(357.1) scale(1 1)"/>
<use href="#stL" transform="translate(1040.2 607.4) rotate(352.4) scale(1 1)"/>
<use href="#stL" transform="translate(1020 611.5) rotate(347.2) scale(1 1)"/>
<use href="#stL" transform="translate(1000.1 617.4) rotate(341.6) scale(1 1)"/>
<use href="#stL" transform="translate(980.1 625) rotate(337.3) scale(1 1)"/>
<use href="#stL" transform="translate(961.2 633.6) rotate(332.4) scale(1 1)"/>
<use href="#stL" transform="translate(943.9 642.8) rotate(330.8) scale(1 1)"/>
<use href="#stL" transform="translate(928.8 651.8) rotate(328.3) scale(1 1)"/>
<use href="#stL" transform="translate(914.4 662) rotate(323) scale(1 1)"/>
<use href="#stL" transform="translate(902.9 671.4) rotate(318.6) scale(0.9 1)"/>
<use href="#stL" transform="translate(892.8 680.3) rotate(315.6) scale(0.9 1)"/>
<use href="#stL" transform="translate(885.1 688.9) rotate(311.1) scale(0.9 1)"/>
</g>
<use href="#hole" x="991" y="539.3"/>
<clipPath id="bkc"><ellipse cx="873" cy="202.4" rx="199" ry="198.6"/></clipPath>
<ellipse cx="873" cy="202.4" rx="199" ry="198.6" fill="url(#bk)"/>
<g clip-path="url(#bkc)" fill="none" stroke="#222b28" stroke-width="7.8" stroke-linecap="round">
<path d="M805 3C805.4 4.8 804.9 2.7 807.6 13.9C810.4 25.1 816.7 52.8 821.5 70.5C826.3 88.2 832.4 107.1 836.5 120C840.6 132.9 843.5 140.5 846 148C848.5 155.5 849.7 158.1 851.6 165C853.5 171.9 855.4 183.2 857.3 189.5C859.2 195.8 861.1 198.5 863 203C864.9 207.5 866.7 209.4 868.7 216.3C870.7 223.2 871.8 233.8 874.8 244.7C877.8 255.6 881.7 267.2 887 282C892.3 296.8 900.5 316.3 906.7 333.3C912.9 350.3 920.6 374.7 924 384C927.4 393.3 926.8 388.2 927.3 389"/>
<path d="M673 282C675.8 280.6 673.3 281.4 690 273.3C706.7 265.2 750 244.9 773.3 233.3C796.6 221.7 816 210.5 830 203.7C844 196.9 848.8 195.2 857.3 192.3C865.8 189.4 872.5 189.1 881.3 186.5C890.1 183.9 900.2 179.9 910 177C919.8 174.1 915.8 174.6 940 169C964.2 163.4 1031.7 148.5 1055 143.3C1078.3 138.1 1075.8 138.9 1080 138"/>
<path d="M673.3 113.3C676.7 114.7 679.4 116.7 693.3 121.7C707.2 126.7 737.8 138.6 756.7 143.3C775.6 148.1 792.2 150.3 806.7 150C821.1 149.7 829.4 147.8 843.3 141.7C857.2 135.6 875 125.8 890 113.3C905 100.8 921.7 80.8 933.3 66.7C945 52.5 953.9 37.8 960 28.3C966.1 18.9 968.3 13.1 970 10"/>
<path d="M781.7 386.7C782.5 383.3 784.2 375.6 786.7 366.7C789.2 357.8 790.6 345.6 796.7 333.3C802.8 321.1 813.3 303.9 823.3 293.3C833.3 282.8 846.1 275 856.7 270C867.2 265 872.8 264.4 886.7 263.3C900.6 262.2 922.8 261.1 940 263.3C957.2 265.6 972.8 271.1 990 276.7C1007.2 282.2 1030 291.4 1043.3 296.7C1056.7 301.9 1065.6 306.4 1070 308.3"/>
</g>
<use href="#hole" x="867.7" y="202.3"/>
</svg>
</body></html>
